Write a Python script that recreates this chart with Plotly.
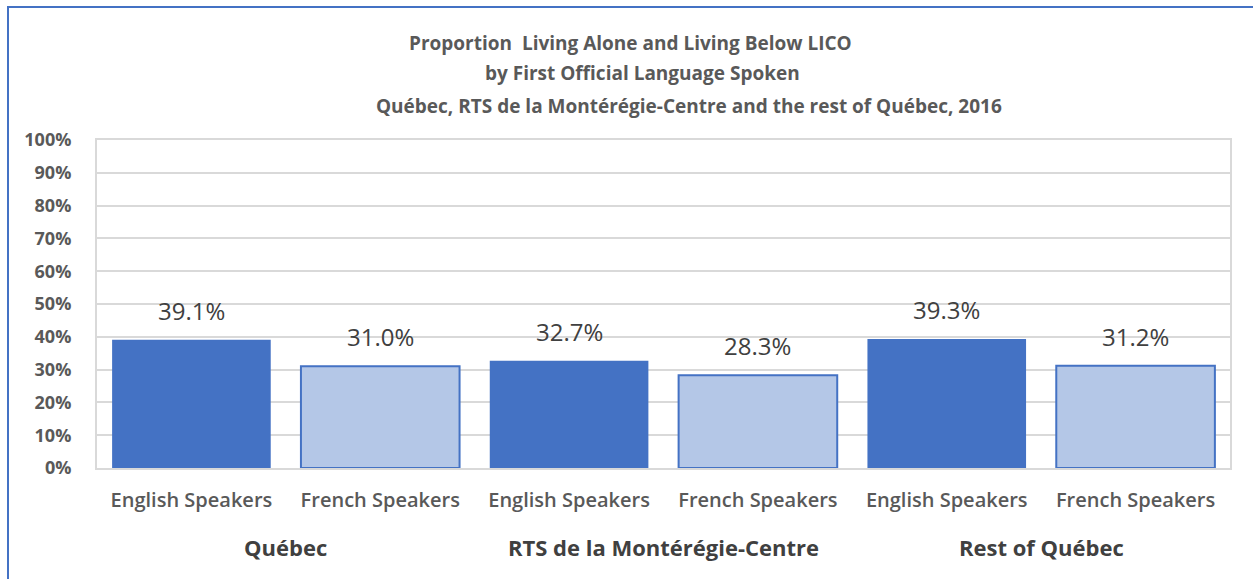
import plotly.graph_objects as go

groups = ["Québec", "RTS de la Montérégie-Centre", "Rest of Québec"]
speakers = ["English Speakers", "French Speakers"]
values = [39.1, 31.0, 32.7, 28.3, 39.3, 31.2]
bar_labels = ["39.1%", "31.0%", "32.7%", "28.3%", "39.3%", "31.2%"]
y_ticks = [0, 10, 20, 30, 40, 50, 60, 70, 80, 90, 100]
title_lines = [
    "Proportion  Living Alone and Living Below LICO",
    "by First Official Language Spoken",
    "Québec, RTS de la Montérégie-Centre and the rest of Québec, 2016",
]

FONT = "Open Sans"
dark = "#4472C4"
light = "#B4C7E7"

xpos = list(range(len(values)))
xlabels = [speakers[i % 2] for i in xpos]
colors = [dark if i % 2 == 0 else light for i in xpos]
line_widths = [0 if i % 2 == 0 else 2 for i in xpos]

fig = go.Figure()
fig.add_trace(go.Bar(
    x=xpos, y=values, width=0.84,
    marker=dict(color=colors, line=dict(color=dark, width=line_widths)),
    hoverinfo="skip",
))

annotations = []
# data labels
for xv, yv, lab in zip(xpos, values, bar_labels):
    annotations.append(dict(
        text=lab, x=xv, y=yv, xref="x", yref="y", showarrow=False,
        xanchor="center", yanchor="bottom", yshift=11,
        font=dict(family=FONT, size=24, color="#404040"),
    ))
# title lines
title_x = [0.471, 0.4815, 0.5225]
title_y = [43, 73, 106]
for t, xx, yy in zip(title_lines, title_x, title_y):
    annotations.append(dict(
        text="<b>%s</b>" % t, xref="paper", yref="paper",
        x=xx, y=(468 - yy) / 328, showarrow=False,
        font=dict(family=FONT, size=19, color="#595959"),
        xanchor="center", yanchor="middle",
    ))
# group labels
for g, name in enumerate(groups):
    annotations.append(dict(
        text="<b>%s</b>" % name, xref="x", yref="paper",
        x=2 * g + 0.5, y=(468 - 547) / 328, showarrow=False,
        font=dict(family=FONT, size=22, color="#404040"),
        xanchor="center", yanchor="middle",
    ))

fig.update_layout(
    width=1253, height=579,
    margin=dict(l=97, r=23, t=140, b=111),
    paper_bgcolor="white", plot_bgcolor="white",
    showlegend=False,
    annotations=annotations,
    shapes=[dict(type="rect", xref="paper", yref="paper",
                 x0=(8 - 97) / 1133, x1=(1270 - 97) / 1133,
                 y0=(468 - 600) / 328, y1=(468 - 7) / 328,
                 line=dict(color="#4472C4", width=2), layer="below")],
)
fig.update_xaxes(
    range=[-0.5, 5.5], tickvals=xpos, ticktext=xlabels,
    tickfont=dict(family=FONT, size=20, color="#595959", weight=600),
    showline=True, linecolor="#D9D9D9", linewidth=2, mirror=True,
    showgrid=False, ticks="", ticklabelstandoff=13,
)
fig.update_yaxes(
    range=[0, 100], tickvals=y_ticks,
    ticktext=["<b>%d%%</b>" % v for v in y_ticks],
    tickfont=dict(family=FONT, size=18, color="#595959"),
    showgrid=True, gridcolor="#D9D9D9", gridwidth=2,
    showline=True, linecolor="#D9D9D9", linewidth=2, mirror=True,
    zeroline=False, ticks="", ticklabelstandoff=20,
)

fig.write_html("out.html", config={"displayModeBar": False},
               post_script="document.body.style.margin='0px';")
